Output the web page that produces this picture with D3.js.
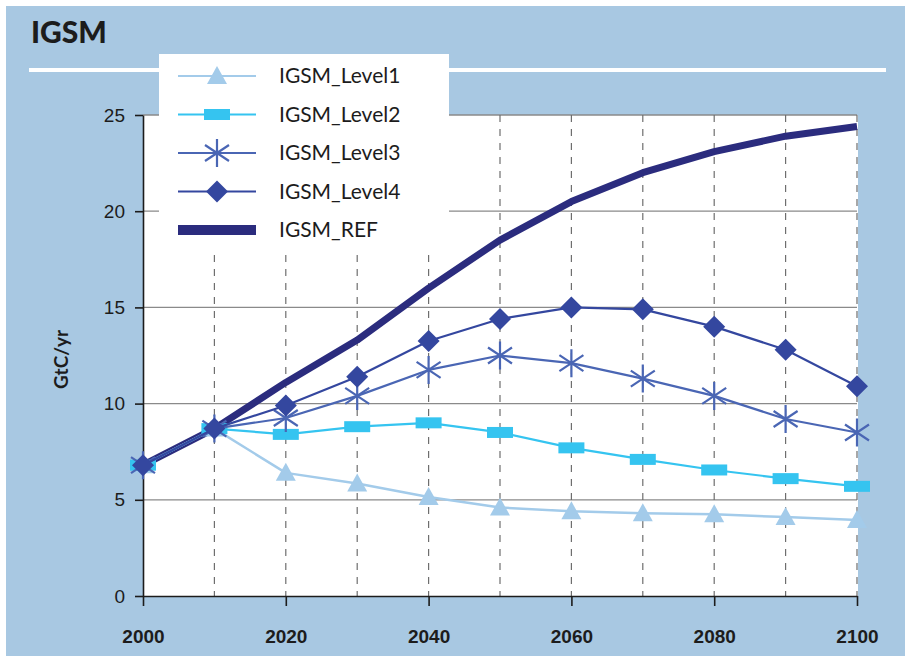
<!DOCTYPE html>
<html>
<head>
<meta charset="utf-8">
<script src="https://cdn.jsdelivr.net/npm/d3@7"></script>
<style>
  body { margin: 0; background: #fff; }
  svg { display: block; font-family: Lato, "Open Sans", sans-serif; }
</style>
</head>
<body>
<div id="chart"></div>
<script>
// data
const years = [2000, 2010, 2020, 2030, 2040, 2050, 2060, 2070, 2080, 2090, 2100];
const level1 = [6.8, 8.7, 6.4, 5.85, 5.15, 4.6, 4.4, 4.3, 4.25, 4.1, 3.95];
const level2 = [6.8, 8.7, 8.4, 8.8, 9.0, 8.5, 7.7, 7.1, 6.55, 6.1, 5.7];
const level3 = [6.8, 8.7, 9.25, 10.4, 11.75, 12.5, 12.1, 11.3, 10.4, 9.2, 8.5];
const level4 = [6.8, 8.7, 9.9, 11.4, 13.25, 14.4, 15.0, 14.9, 14.0, 12.8, 10.9];
const ref = [6.8, 8.7, 11.1, 13.3, 16.0, 18.5, 20.5, 22.0, 23.1, 23.9, 24.4];
const yTicks = [0, 5, 10, 15, 20, 25];
const xTicks = [2000, 2020, 2040, 2060, 2080, 2100];

const series = [
    { name: 'IGSM_REF', values: ref, color: '#2b2c7e', width: 7, marker: null },
    { name: 'IGSM_Level1', values: level1, color: '#a3cbea', width: 2.5, marker: 'triangle' },
    { name: 'IGSM_Level2', values: level2, color: '#35c4f0', width: 2.2, marker: 'rect' },
    { name: 'IGSM_Level3', values: level3, color: '#4a66b4', width: 2.2, marker: 'star' },
    { name: 'IGSM_Level4', values: level4, color: '#34479f', width: 2.2, marker: 'diamond' }
];
const legendOrder = ['IGSM_Level1', 'IGSM_Level2', 'IGSM_Level3', 'IGSM_Level4', 'IGSM_REF'];

const W = 905, H = 656;
const svg = d3.select('#chart').append('svg').attr('width', W).attr('height', H);

// panel background
svg.append('rect').attr('x', 6).attr('y', 6).attr('width', W - 6).attr('height', H - 6)
    .attr('fill', '#a8c8e2');

svg.append('text')
    .attr('x', 31).attr('y', 43)
    .attr('font-size', '30px').attr('font-weight', '900')
    .attr('fill', '#1c1c1c')
    .text('IGSM');

svg.append('rect').attr('x', 29).attr('y', 68).attr('width', 857).attr('height', 4).attr('fill', '#fff');

const x = d3.scaleLinear().domain([2000, 2100]).range([143, 857]);
const y = d3.scaleLinear().domain([0, 25]).range([596, 115]);

// plot area
svg.append('rect').attr('x', x(2000)).attr('y', y(25))
    .attr('width', x(2100) - x(2000) + 1).attr('height', y(0) - y(25))
    .attr('fill', '#fff');

// grid
svg.append('g').selectAll('line').data(yTicks.filter(d => d > 0)).join('line')
    .attr('x1', x(2000)).attr('x2', x(2100))
    .attr('y1', d => y(d)).attr('y2', d => y(d))
    .attr('stroke', '#8a8a8a').attr('stroke-width', 1.3);

svg.append('g').selectAll('line').data(years.filter(d => d > 2000)).join('line')
    .attr('x1', d => x(d)).attr('x2', d => x(d))
    .attr('y1', y(25)).attr('y2', y(0))
    .attr('stroke', '#6e6e6e').attr('stroke-width', 1.2)
    .attr('stroke-dasharray', '7,7');

// axes
const yAxis = svg.append('g').attr('transform', `translate(${x(2000)},0)`)
    .call(d3.axisLeft(y).tickValues(yTicks).tickSize(8).tickSizeOuter(0).tickPadding(10));
yAxis.selectAll('text').attr('font-size', '19px').attr('fill', '#1c1c1c');

const xAxis = svg.append('g').attr('transform', `translate(0,${y(0)})`)
    .call(d3.axisBottom(x).tickValues(xTicks).tickFormat(d3.format('d')).tickSize(10).tickSizeOuter(0).tickPadding(24));
xAxis.selectAll('text').attr('font-size', '19px').attr('font-weight', 'bold').attr('fill', '#1c1c1c');
svg.selectAll('.domain').attr('stroke', '#1c1c1c').attr('stroke-width', 1.6);
svg.selectAll('.tick line').attr('stroke', '#1c1c1c').attr('stroke-width', 1.6);

svg.append('text')
    .attr('transform', `translate(68,${y(12.3)}) rotate(-90)`)
    .attr('text-anchor', 'middle')
    .attr('font-size', '19px').attr('font-weight', 'bold').attr('fill', '#1c1c1c')
    .text('GtC/yr');

// markers
function drawMarker(sel, type, color) {
    if (type === 'triangle') {
        sel.append('path').attr('d', 'M0,-10 L10,8 L-10,8 Z').attr('fill', color);
    } else if (type === 'rect') {
        sel.append('rect').attr('x', -13).attr('y', -5.5).attr('width', 26).attr('height', 11).attr('fill', color);
    } else if (type === 'star') {
        sel.append('path').attr('d', 'M0,-14 L0,14 M-12,-8 L12,8 M-12,8 L12,-8')
            .attr('stroke', color).attr('stroke-width', 2.2).attr('fill', 'none');
    } else if (type === 'diamond') {
        sel.append('path').attr('d', 'M0,-11 L11,0 L0,11 L-11,0 Z').attr('fill', color);
    }
}

const line = d3.line().x((d, i) => x(years[i])).y(d => y(d));

series.forEach(s => {
    const g = svg.append('g');
    g.append('path').datum(s.values).attr('d', line)
        .attr('fill', 'none').attr('stroke', s.color).attr('stroke-width', s.width)
        .attr('stroke-linejoin', 'round');
    if (s.marker) {
        s.values.forEach((v, i) => {
            const m = g.append('g').attr('transform', `translate(${x(years[i])},${y(v)})`);
            drawMarker(m, s.marker, s.color);
        });
    }
});

// legend
const legend = svg.append('g');
legend.append('rect').attr('x', 159).attr('y', 54).attr('width', 290).attr('height', 194).attr('fill', '#fff');
legendOrder.forEach((name, i) => {
    const s = series.find(d => d.name === name);
    const ly = 76 + i * 38.5;
    const item = legend.append('g').attr('transform', `translate(0,${ly})`);
    item.append('line').attr('x1', 178).attr('x2', 256).attr('y1', 0).attr('y2', 0)
        .attr('stroke', s.color).attr('stroke-width', s.marker ? 2 : 10);
    if (s.marker) {
        const m = item.append('g').attr('transform', 'translate(217,0)');
        drawMarker(m, s.marker, s.color);
    }
    item.append('text').attr('x', 279).attr('y', 7)
        .attr('font-size', '21px').attr('fill', '#1c1c1c')
        .text(name);
});
</script>
</body>
</html>
